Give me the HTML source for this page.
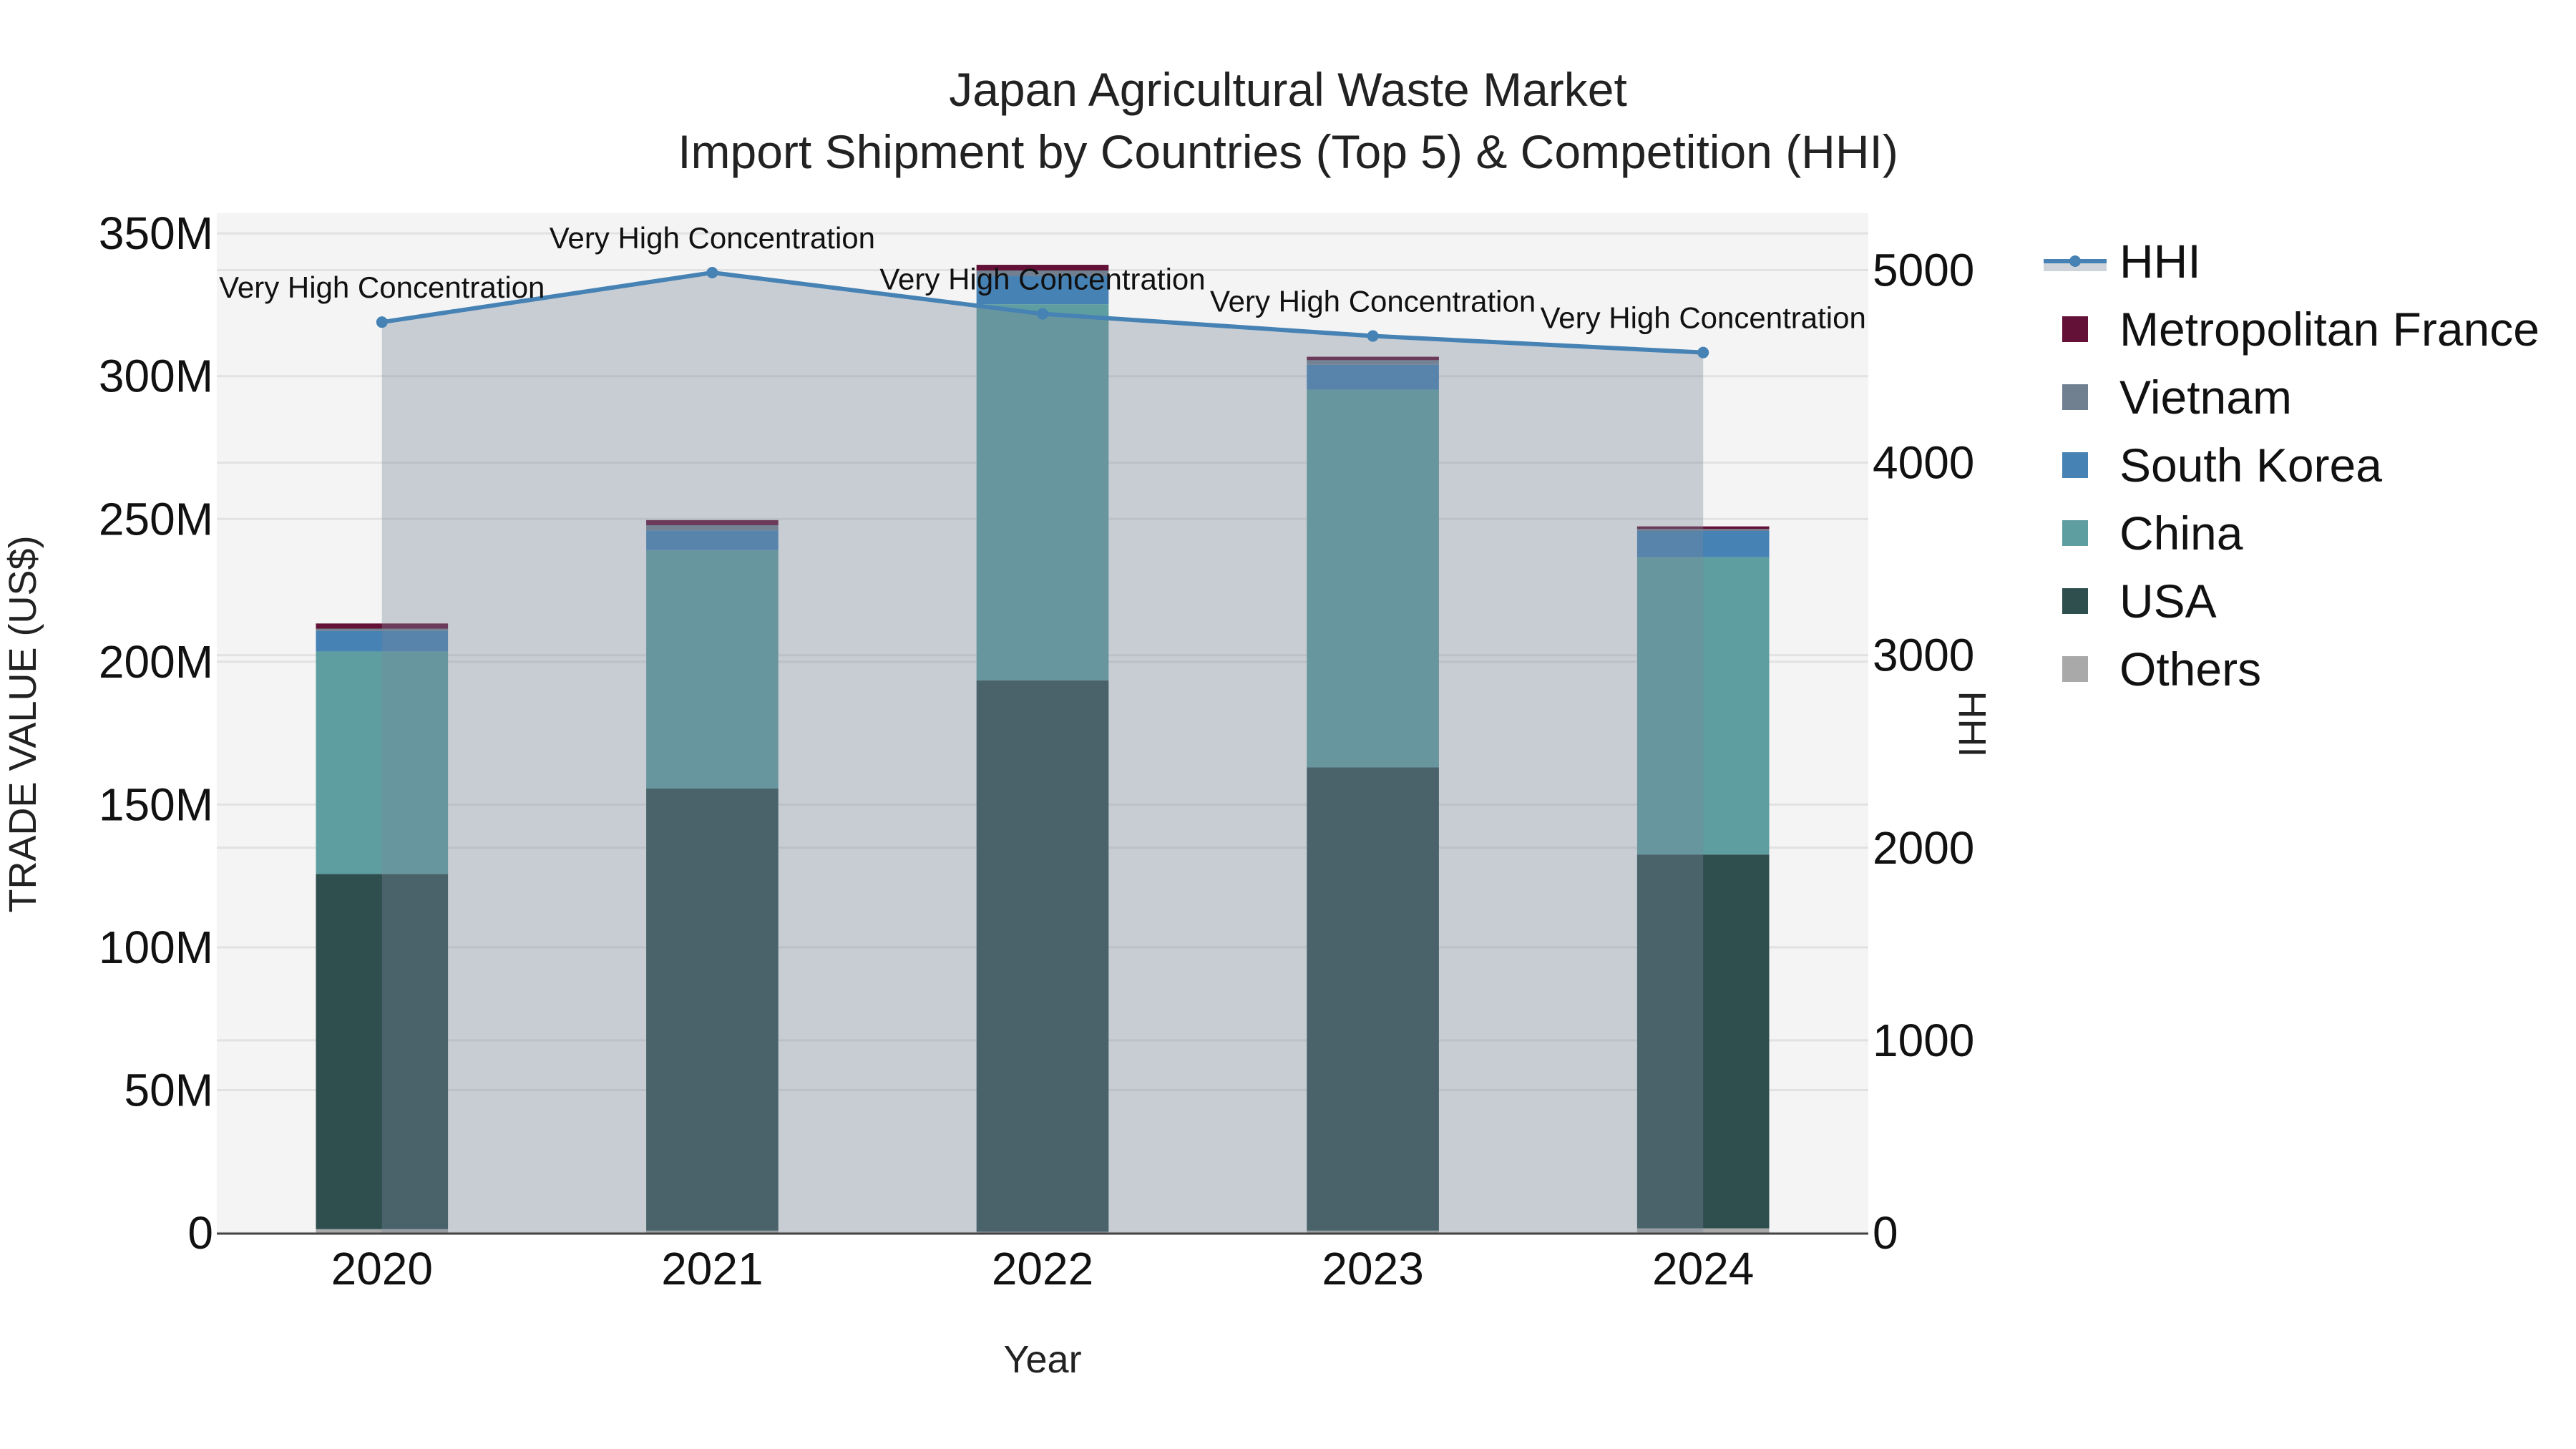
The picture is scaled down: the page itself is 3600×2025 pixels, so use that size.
<!DOCTYPE html>
<html><head><meta charset="utf-8">
<style>
html,body{margin:0;padding:0;background:#fff;}
svg{display:block;font-family:"Liberation Sans",Arial,sans-serif;}
</style></head>
<body>
<svg id="chart" width="3600" height="2025" viewBox="0 0 3600 2025" xmlns="http://www.w3.org/2000/svg">
<rect x="303" y="298" width="2308" height="1425" fill="#f4f4f4"/>
<g id="grid"></g>
<g id="bars"></g>
<g id="hhi"></g>
<line x1="303" y1="1724" x2="2611" y2="1724" stroke="#444" stroke-width="3"/>
<g id="ticks" font-size="64" fill="#111"></g>
<text x="1800" y="148" text-anchor="middle" font-size="66" fill="#222">Japan Agricultural Waste Market</text>
<text x="1800" y="235" text-anchor="middle" font-size="66" fill="#222">Import Shipment by Countries (Top 5) &amp; Competition (HHI)</text>
<text x="1457" y="1918" text-anchor="middle" font-size="54" fill="#222">Year</text>
<text transform="translate(50,1012) rotate(-90)" text-anchor="middle" font-size="54" fill="#222">TRADE VALUE (US$)</text>
<text transform="translate(2738,1012) rotate(90)" text-anchor="middle" font-size="54" fill="#222">HHI</text>
<g id="legend" font-size="66" fill="#111"></g>
</svg>
<script>
const years = ["2020","2021","2022","2023","2024"];
const others = [1.3, 0.8, 0.4, 0.8, 1.6];
const usa = [124.4, 154.8, 193.1, 162.2, 130.9];
const china = [77.9, 83.5, 131.7, 132.3, 104.1];
const southKorea = [7.2, 6.9, 9.8, 8.7, 9.2];
const vietnam = [0.8, 1.8, 2.0, 1.6, 0.7];
const france = [1.8, 1.8, 2.0, 1.2, 0.9];
const hhi = [4730, 4987, 4773, 4658, 4572];
const hhiLabels = ["Very High Concentration","Very High Concentration","Very High Concentration","Very High Concentration","Very High Concentration"];
const yTicks = [0,50,100,150,200,250,300,350];
const yTickLabels = ["0","50M","100M","150M","200M","250M","300M","350M"];
const y2Ticks = [0,1000,2000,3000,4000,5000];
const y2TickLabels = ["0","1000","2000","3000","4000","5000"];

const NS="http://www.w3.org/2000/svg";
const L=303,R=2611,B=1723;
const band=(R-L)/years.length;
const xC=i=>L+band*(i+0.5);
const yV=v=>B-v*3.991;
const yH=v=>B-v*0.2691;
function mk(tag,attrs,parent){const e=document.createElementNS(NS,tag);for(const k in attrs)e.setAttribute(k,attrs[k]);parent.appendChild(e);return e;}

const grid=document.getElementById('grid');
yTicks.forEach(t=>{const l=mk('line',{x1:L,x2:R,y1:yV(t),y2:yV(t),stroke:'#e2e2e2','stroke-width':3},grid);

});
y2Ticks.forEach(t=>{const l=mk('line',{x1:L,x2:R,y1:yH(t),y2:yH(t),stroke:'#e2e2e2','stroke-width':3},grid);

});

const series=[["others",others,"#a9a9a9"],["usa",usa,"#2f4f4f"],["china",china,"#5f9ea0"],["south-korea",southKorea,"#4682b4"],["vietnam",vietnam,"#708090"],["metropolitan-france",france,"#641138"]];
const bars=document.getElementById('bars');
const bw=band*0.4;
years.forEach((yr,i)=>{let base=0;series.forEach(s=>{const v=s[1][i];
const r=mk('rect',{x:xC(i)-bw/2,y:yV(base+v),width:bw,height:yV(base)-yV(base+v),fill:s[2]},bars);


base+=v;});});

const hg=document.getElementById('hhi');
let pts=hhi.map((v,i)=>xC(i)+','+yH(v)).join(' ');
const area=mk('polygon',{points:xC(0)+','+yH(0)+' '+pts+' '+xC(hhi.length-1)+','+yH(0),fill:'rgba(122,136,155,0.36)'},hg);


const line=mk('polyline',{points:pts,fill:'none',stroke:'#4682b4','stroke-width':6},hg);


hhi.forEach((v,i)=>{const c=mk('circle',{cx:xC(i),cy:yH(v),r:8,fill:'#4682b4'},hg);


const t=mk('text',{x:xC(i),y:yH(v)-34,'text-anchor':'middle','font-size':42,fill:'#111'},hg);
t.textContent=hhiLabels[i];

});

const tk=document.getElementById('ticks');
yTicks.forEach((t,i)=>{const e=mk('text',{x:298,y:yV(t)+22,'text-anchor':'end'},tk);e.textContent=yTickLabels[i];

});
y2Ticks.forEach((t,i)=>{const e=mk('text',{x:2617,y:yH(t)+22,'text-anchor':'start'},tk);e.textContent=y2TickLabels[i];

});
years.forEach((yr,i)=>{const e=mk('text',{x:xC(i),y:1795,'text-anchor':'middle'},tk);e.textContent=yr;

});

const lg=document.getElementById('legend');
const legItems=[["HHI",null],["Metropolitan France","#641138"],["Vietnam","#708090"],["South Korea","#4682b4"],["China","#5f9ea0"],["USA","#2f4f4f"],["Others","#a9a9a9"]];
legItems.forEach((it,i)=>{const cy=365+i*95;
const g=mk('g',{},lg);


if(it[1]===null){mk('rect',{x:2856,y:cy,width:88,height:14,fill:'rgba(122,136,155,0.36)'},g);
mk('line',{x1:2856,x2:2944,y1:cy,y2:cy,stroke:'#4682b4','stroke-width':6},g);
mk('circle',{cx:2900,cy:cy,r:8,fill:'#4682b4'},g);}
else{mk('rect',{x:2882,y:cy-18,width:36,height:36,fill:it[1]},g);}
const t=mk('text',{x:2962,y:cy+23},g);t.textContent=it[0];});
</script>
</body></html>
